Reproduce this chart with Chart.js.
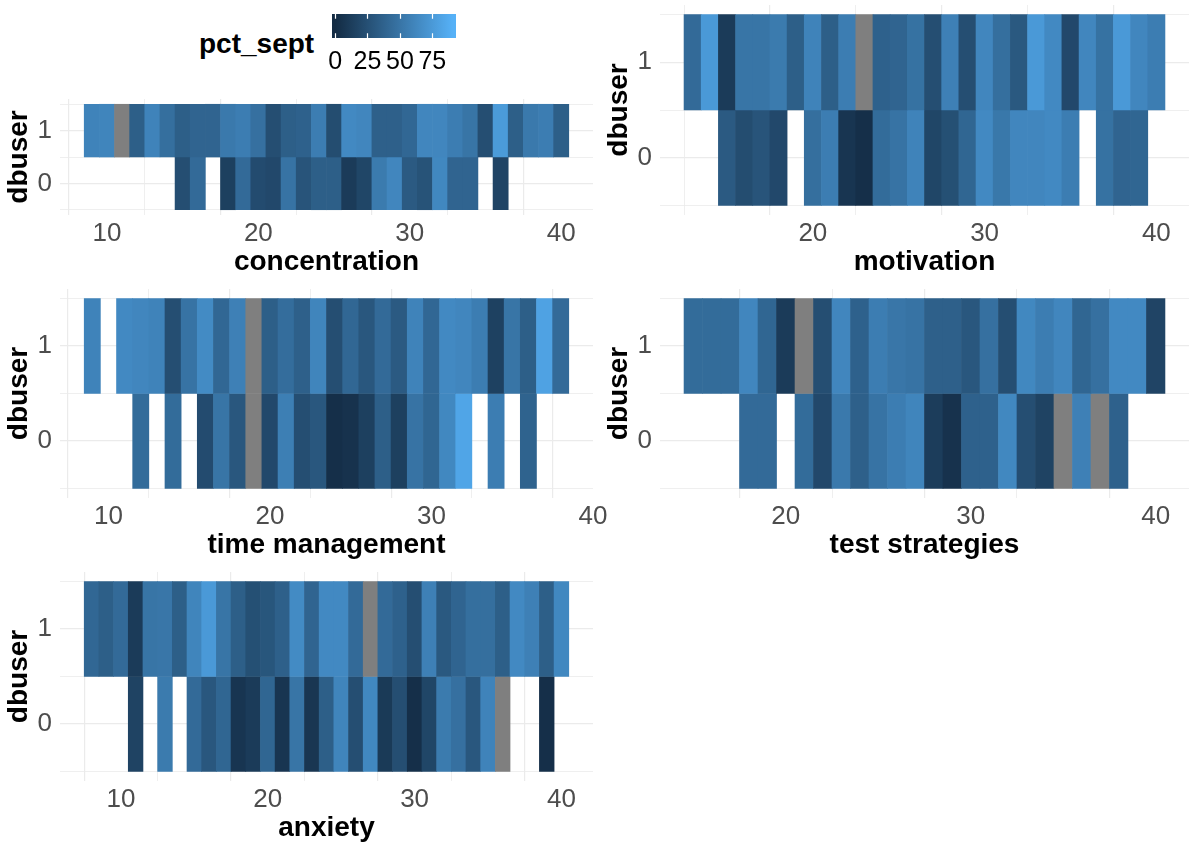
<!DOCTYPE html>
<html><head><meta charset="utf-8">
<script src="https://cdn.jsdelivr.net/npm/chart.js@4.4.1/dist/chart.umd.min.js"></script>
<style>
html,body{margin:0;padding:0;background:#fff;}
body{width:1194px;height:843px;overflow:hidden;position:relative;font-family:'Liberation Sans',Arial,sans-serif;}
canvas{position:absolute;}
#legTitle{position:absolute;left:199px;top:30px;font-weight:bold;font-size:28px;line-height:28px;color:#000;white-space:nowrap;}
</style></head>
<body>
<div id="legTitle">pct_sept</div>
<script>
// ---------- data ----------
const concX1 = [9,10,11,12,13,14,15,16,17,18,19,20,21,22,23,24,25,26,27,28,29,30,31,32,33,34,35,36,37,38,39,40];
const concPct1 = [60,61,null,35,60,46,35,39,39,53,56,47,24,35,37,56,23,64,62,36,36,41,62,62,56,50,24,76,35,53,56,35];
const concX0 = [15,16,18,19,20,21,22,23,24,25,26,27,28,29,30,31,32,33,34,36];
const concPct0 = [24,43,14,43,22,20,49,28,35,35,11,18,54,62,32,27,63,39,39,17];

const motX1 = [13,14,15,16,17,18,19,20,21,22,23,24,25,26,27,28,29,30,31,32,33,34,35,36,37,38,39,40];
const motPct1 = [43,75,11,50,50,54,35,60,35,56,null,37,39,48,24,58,24,62,46,31,75,64,20,62,48,75,62,56];
const motX0 = [15,16,17,18,20,21,22,23,24,25,26,27,28,29,30,31,32,33,34,35,37,38,39];
const motPct0 = [32,23,28,20,46,56,7,3,44,49,60,18,25,40,64,52,62,62,64,56,48,39,40];

const timeX1 = [9,11,12,13,14,15,16,17,18,19,20,21,22,23,24,25,26,27,28,29,30,31,32,33,34,35,36,37,38];
const timePct1 = [60,64,62,60,24,49,65,41,58,null,35,45,36,61,24,41,30,43,32,60,41,64,62,56,15,50,35,81,43];
const timeX0 = [12,14,16,17,18,19,20,21,22,23,24,25,26,27,28,29,30,31,32,34,36];
const timePct0 = [44,44,22,50,30,null,20,57,24,30,3,5,14,35,14,49,40,63,83,56,38];

const testX1 = [15,16,17,18,19,20,21,22,23,24,25,26,27,28,29,30,31,32,33,34,35,36,37,38,39,40];
const testPct1 = [44,44,44,62,40,11,null,24,62,37,56,51,49,36,36,30,47,24,63,56,62,40,47,64,64,17];
const testX0 = [18,19,21,22,23,24,25,26,27,28,29,30,31,32,33,34,35,36,37,38];
const testPct0 = [43,43,44,20,53,36,49,56,61,12,5,37,37,63,24,16,null,58,null,37];

const anxX1 = [8,9,10,11,12,13,14,15,16,17,18,19,20,21,22,23,24,25,26,27,28,29,30,31,32,33,34,35,36,37,38,39,40];
const anxPct1 = [41,35,43,11,50,51,35,61,75,50,35,25,29,36,65,39,64,64,43,null,43,37,24,58,31,39,46,46,35,64,58,35,63];
const anxX0 = [11,13,15,16,17,18,19,20,21,22,23,24,25,26,27,28,29,30,31,32,33,34,35,36,39];
const anxPct0 = [16,54,43,30,40,7,11,40,7,50,7.5,35,61,24,63,10,24,3,18,54,47,30,60,null,3];

const legendTicks = [0,25,50,75];
const yTickLabels = {0:'0', 1:'1'};

// ---------- colour scale ----------
const LOW = [19,43,67], HIGH = [86,177,247], NA_COL = '#7F7F7F';
const PCT_MIN = 0, PCT_MAX = 91;
function fillFor(v){
  if (v === null || v === undefined) return NA_COL;
  const t = Math.max(0, Math.min(1, (v - PCT_MIN) / (PCT_MAX - PCT_MIN)));
  const c = LOW.map((l,i)=>Math.round(l + (HIGH[i]-l)*t));
  return 'rgb(' + c.join(',') + ')';
}

Chart.defaults.font.family = "'Liberation Sans', Arial, sans-serif";

function addCanvas(left, top, w, h){
  const c = document.createElement('canvas');
  c.width = w; c.height = h;
  c.style.left = left + 'px'; c.style.top = top + 'px';
  c.style.width = w + 'px'; c.style.height = h + 'px';
  document.body.appendChild(c);
  return c;
}

function makePanel(p){
  const c = addCanvas(p.cl, p.ct, p.cw, p.ch);
  const datasets = p.rows.map(r => ({
    data: r.x.map((xv) => ({x: xv, y: [r.y - 0.5, r.y + 0.5]})),
    backgroundColor: r.pct.map(fillFor),
    borderWidth: 0,
    grouped: false,
    barPercentage: 1,
    categoryPercentage: 1
  }));
  const xt = [];
  for (let v = 5; v <= 45; v += 5) if (v >= p.xmin && v <= p.xmax) xt.push(v);
  new Chart(c, {
    type: 'bar',
    data: {datasets},
    options: {
      responsive: false, animation: false, events: [],
      devicePixelRatio: 1,
      layout: {padding: {top: p.pt, right: p.pr, left: 0, bottom: 0}},
      plugins: {legend: {display: false}, tooltip: {enabled: false}},
      scales: {
        x: {
          type: 'linear', min: p.xmin, max: p.xmax, offset: false,
          afterBuildTicks: s => { s.ticks = xt.map(v => ({value: v})); },
          afterFit: s => { s.height = 68; s.paddingLeft = 0; s.paddingRight = 0; },
          ticks: {autoSkip: false, maxRotation: 0, minRotation: 0, padding: 3, color: '#4D4D4D',
                  font: {size: 26}, callback: v => (v % 10 === 0 ? String(v) : '')},
          grid: {color: '#EBEBEB', drawTicks: false,
                 lineWidth: ctx => (ctx.tick && ctx.tick.value % 10 === 0 ? 1.2 : 0.8)},
          border: {display: false},
          title: {display: true, text: p.title, color: '#000', font: {size: 28, weight: 'bold'},
                  padding: {top: 4, bottom: 4}}
        },
        y: {
          type: 'linear', min: -0.6, max: 1.6,
          afterBuildTicks: s => { s.ticks = [-0.5, 0, 0.5, 1, 1.5].map(v => ({value: v})); },
          afterFit: s => { s.width = 60; s.paddingTop = 0; s.paddingBottom = 0; },
          ticks: {autoSkip: false, padding: 8, color: '#4D4D4D', font: {size: 26},
                  callback: v => (yTickLabels[v] !== undefined ? yTickLabels[v] : '')},
          grid: {color: '#EBEBEB', drawTicks: false,
                 lineWidth: ctx => (ctx.tick && Number.isInteger(ctx.tick.value) ? 1.2 : 0.8)},
          border: {display: false},
          title: {display: true, text: 'dbuser', color: '#000', font: {size: 28, weight: 'bold'},
                  padding: {top: 2, bottom: 4}}
        }
      }
    }
  });
}

// left column: canvas 0..620 (plot area 60..593); right column: 600..1194 (plot area 660..1189)
makePanel({cl: 0, ct: 93, cw: 620, ch: 190, pt: 6, pr: 27, xmin: 6.9, xmax: 42.1, title: 'concentration',
  rows: [{y: 1, x: concX1, pct: concPct1}, {y: 0, x: concX0, pct: concPct0}]});
makePanel({cl: 600, ct: 0, cw: 594, ch: 283, pt: 5, pr: 5, xmin: 11.1, xmax: 41.9, title: 'motivation',
  rows: [{y: 1, x: motX1, pct: motPct1}, {y: 0, x: motX0, pct: motPct0}]});
makePanel({cl: 0, ct: 283, cw: 620, ch: 283, pt: 6, pr: 27, xmin: 7, xmax: 40, title: 'time management',
  rows: [{y: 1, x: timeX1, pct: timePct1}, {y: 0, x: timeX0, pct: timePct0}]});
makePanel({cl: 600, ct: 283, cw: 594, ch: 283, pt: 6, pr: 5, xmin: 13.2, xmax: 41.8, title: 'test strategies',
  rows: [{y: 1, x: testX1, pct: testPct1}, {y: 0, x: testX0, pct: testPct0}]});
makePanel({cl: 0, ct: 566, cw: 620, ch: 283, pt: 6, pr: 27, xmin: 5.85, xmax: 42.15, title: 'anxiety',
  rows: [{y: 1, x: anxX1, pct: anxPct1}, {y: 0, x: anxX0, pct: anxPct0}]});

// ---------- colour bar legend ----------
const legCanvas = addCanvas(300, 0, 200, 80);
const colorbarPlugin = {
  id: 'colorbar',
  beforeDatasetsDraw(chart){
    const {ctx, chartArea: a, scales: {x}} = chart;
    const g = ctx.createLinearGradient(x.getPixelForValue(PCT_MIN), 0, x.getPixelForValue(PCT_MAX), 0);
    g.addColorStop(0, fillFor(PCT_MIN));
    g.addColorStop(0.5, fillFor((PCT_MIN + PCT_MAX) / 2));
    g.addColorStop(1, fillFor(PCT_MAX));
    ctx.save();
    ctx.fillStyle = g;
    ctx.fillRect(a.left, a.top, a.right - a.left, a.bottom - a.top);
    ctx.strokeStyle = '#fff';
    ctx.lineWidth = 1.2;
    const len = (a.bottom - a.top) / 5;
    legendTicks.forEach(v => {
      const px = Math.round(x.getPixelForValue(v)) + 0.5;
      ctx.beginPath();
      ctx.moveTo(px, a.top); ctx.lineTo(px, a.top + len);
      ctx.moveTo(px, a.bottom); ctx.lineTo(px, a.bottom - len);
      ctx.stroke();
    });
    ctx.restore();
  }
};
new Chart(legCanvas, {
  type: 'bar',
  data: {datasets: [{data: []}]},
  plugins: [colorbarPlugin],
  options: {
    responsive: false, animation: false, events: [], devicePixelRatio: 1,
    layout: {padding: {left: 32, right: 44, top: 14, bottom: 0}},
    plugins: {legend: {display: false}, tooltip: {enabled: false}},
    scales: {
      x: {type: 'linear', min: -2.39, max: 93.3, offset: false,
          afterBuildTicks: s => { s.ticks = legendTicks.map(v => ({value: v})); },
          afterFit: s => { s.height = 42; s.paddingLeft = 0; s.paddingRight = 0; },
          grid: {display: false, drawTicks: false}, border: {display: false},
          ticks: {autoSkip: false, maxRotation: 0, padding: 9, color: '#000', font: {size: 25},
                  callback: v => String(v)}},
      y: {display: false, min: 0, max: 1}
    }
  }
});
</script>
</body></html>
